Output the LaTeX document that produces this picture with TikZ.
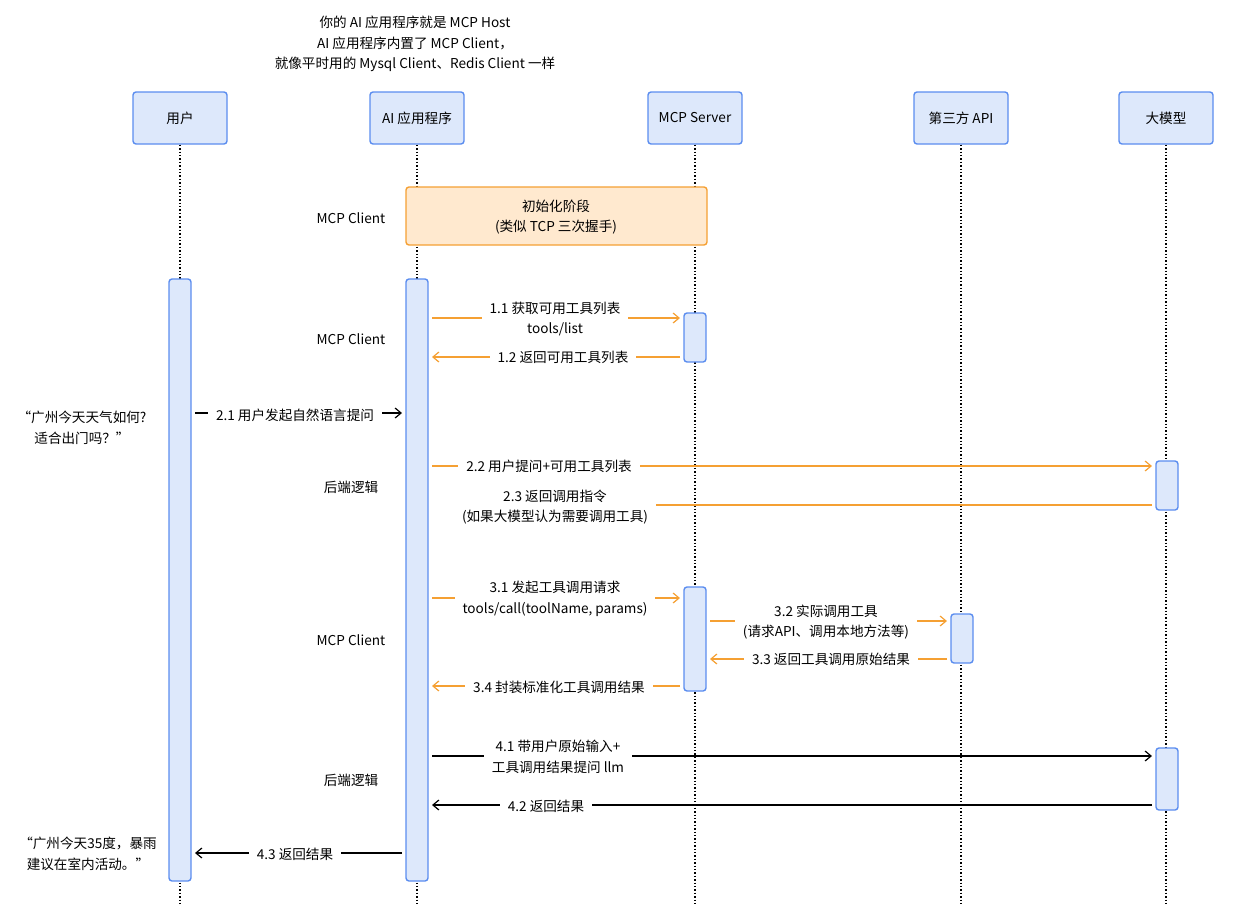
\documentclass[tikz,border=0pt]{standalone}
\usepackage{fontspec}
\setmainfont{Noto Sans CJK SC}
\usetikzlibrary{arrows.meta}
\definecolor{boxblue}{HTML}{DDE8FB}
\definecolor{lineblue}{HTML}{5B8DEF}
\definecolor{boxorange}{HTML}{FFE9CF}
\definecolor{lineorange}{HTML}{F5A033}
\begin{document}
\begin{tikzpicture}[x=0.5pt,y=-0.5pt,
    every node/.style={font=\fontsize{6.8}{10.4}\selectfont},
    actor/.style={draw=lineblue,fill=boxblue,rounded corners=1.5pt,line width=0.7pt,minimum width=47pt,minimum height=26pt},
    bar/.style={draw=lineblue,fill=boxblue,rounded corners=1.5pt,line width=0.7pt},
    life/.style={densely dotted,line width=0.7pt},
    omsg/.style={draw=lineorange,line width=0.6pt,-{Straight Barb[length=3pt,width=5pt]}},
    bmsg/.style={draw=black,line width=0.6pt,-{Straight Barb[length=3pt,width=5pt]}},
    lbl/.style={fill=white,align=center,inner xsep=4pt,inner ysep=1pt}]
\useasboundingbox (0,0) rectangle (1239,906);

% header text
\node[align=center] (host) at (415,44) {你的 AI 应用程序就是 MCP Host\\AI 应用程序内置了 MCP Client，\\就像平时用的 Mysql Client、Redis Client 一样};

% lifelines
\foreach \x/\n/\t in {180/user/用户, 417/app/AI 应用程序, 695/srv/MCP Server, 961/api/第三方 API, 1166/llm/大模型}{
  \coordinate (\n-end) at (\x,906);
  \node[actor] (\n) at (\x,118) {\t};
  \draw[life] (\n.south) -- (\n-end);
}

% init phase
\draw[draw=lineorange,fill=boxorange,rounded corners=1.5pt,line width=0.7pt] (406,187) rectangle (707,245);
\node[align=center] (init) at (556,217) {初始化阶段\\(类似 TCP 三次握手)};

% activation bars
\draw[bar] (169,279) rectangle (191,881);
\draw[bar] (406,279) rectangle (428,881);
\draw[bar] (684,313) rectangle (706,362);
\draw[bar] (684,587) rectangle (706,691);
\draw[bar] (951,614) rectangle (973,663);
\draw[bar] (1156,461) rectangle (1178,510);
\draw[bar] (1156,748) rectangle (1178,810);

% side labels
\node (s1) at (351,218) {MCP Client};
\node (s2) at (351,339) {MCP Client};
\node (s3) at (351,487) {后端逻辑};
\node (s4) at (351,640) {MCP Client};
\node (s5) at (351,780) {后端逻辑};

% user texts
\node[align=center] (q) at (82,428) {“广州今天天气如何?\\适合出门吗？”};
\node[align=center] (a) at (88,854) {“广州今天35度，暴雨\\建议在室内活动。”};

% message end points
\coordinate (m11a) at (432,318); \coordinate (m11b) at (680,318);
\coordinate (m12a) at (680,357); \coordinate (m12b) at (432,357);
\coordinate (m21a) at (195,413); \coordinate (m21b) at (402,413);
\coordinate (m22a) at (432,466); \coordinate (m22b) at (1152,466);
\coordinate (m23a) at (1152,505);
\coordinate (m31a) at (432,598); \coordinate (m31b) at (680,598);
\coordinate (m32a) at (710,621); \coordinate (m32b) at (947,621);
\coordinate (m33a) at (947,659); \coordinate (m33b) at (710,659);
\coordinate (m34a) at (680,686); \coordinate (m34b) at (432,686);
\coordinate (m41a) at (432,756); \coordinate (m41b) at (1152,756);
\coordinate (m42a) at (1152,805); \coordinate (m42b) at (432,805);
\coordinate (m43a) at (402,853); \coordinate (m43b) at (195,853);

% messages
\draw[omsg] (m11a) -- (m11b);
\node[lbl] (l11) at (555,319) {1.1 获取可用工具列表\\tools/list};
\draw[omsg] (m12a) -- (m12b);
\node[lbl] (l12) at (563,357) {1.2 返回可用工具列表};
\draw[bmsg] (m21a) -- (m21b);
\node[lbl] (l21) at (295,415) {2.1 用户发起自然语言提问};
\draw[omsg] (m22a) -- (m22b);
\node[lbl] (l22) at (549,466) {2.2 用户提问+可用工具列表};
\node[lbl] (l23) at (555,507) {2.3 返回调用指令\\(如果大模型认为需要调用工具)};
\draw[draw=lineorange,line width=0.6pt] (m23a) -- (l23.east |- m23a);
\draw[omsg] (m31a) -- (m31b);
\node[lbl] (l31) at (555,599) {3.1 发起工具调用请求\\tools/call(toolName, params)};
\draw[omsg] (m32a) -- (m32b);
\node[lbl] (l32) at (826,622) {3.2 实际调用工具\\(请求API、调用本地方法等)};
\draw[omsg] (m33a) -- (m33b);
\node[lbl] (l33) at (831,659) {3.3 返回工具调用原始结果};
\draw[omsg] (m34a) -- (m34b);
\node[lbl] (l34) at (559,687) {3.4 封装标准化工具调用结果};
\draw[bmsg] (m41a) -- (m41b);
\node[lbl] (l41) at (558,757) {4.1 带用户原始输入+\\工具调用结果提问 llm};
\draw[bmsg] (m42a) -- (m42b);
\node[lbl] (l42) at (546,806) {4.2 返回结果};
\draw[bmsg] (m43a) -- (m43b);
\node[lbl] (l43) at (295,854) {4.3 返回结果};
\end{tikzpicture}
\end{document}
